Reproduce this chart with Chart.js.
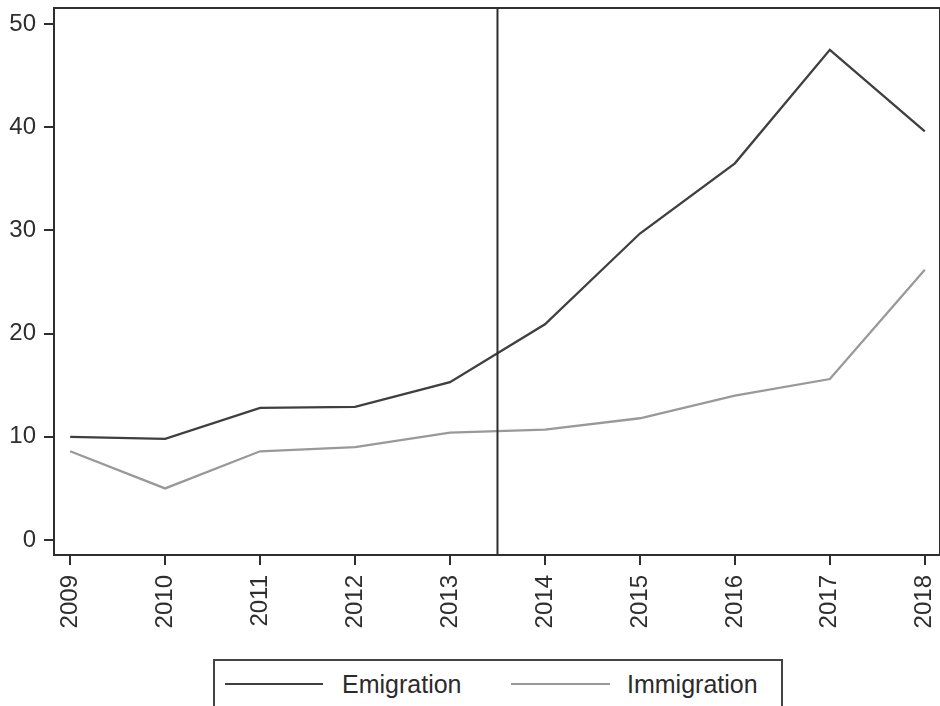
<!DOCTYPE html>
<html>
<head>
<meta charset="utf-8">
<script src="https://cdn.jsdelivr.net/npm/chart.js@4.4.1/dist/chart.umd.min.js"></script>
<style>
  body { margin: 0; background: #fff; }
  #wrap { position: relative; width: 940px; height: 706px; overflow: hidden; }
  #legend {
    position: absolute; left: 213px; top: 659px; width: 566px; height: 70px;
    border: 2px solid #444; background: #fff;
    font-family: "Liberation Sans", Arial, Helvetica, sans-serif; font-size: 25px; color: #2b2b2b;
  }
  #legend .sw { position: absolute; top: 22px; height: 2px; }
  #legend .lb { position: absolute; top: 8px; line-height: 30px; }
</style>
</head>
<body>
<div id="wrap">
  <canvas id="grafica" width="940" height="706"></canvas>
  <div id="legend">
    <span class="sw" style="left:10px;width:98px;background:#3f3f3f"></span>
    <span class="lb" style="left:127px">Emigration</span>
    <span class="sw" style="left:296px;width:99px;background:#999"></span>
    <span class="lb" style="left:412px">Immigration</span>
  </div>
</div>
<script>
// años y valores de las dos series
const anios = [2009, 2010, 2011, 2012, 2013, 2014, 2015, 2016, 2017, 2018];
const emigracion = [10.0, 9.8, 12.8, 12.9, 15.3, 20.9, 29.7, 36.5, 47.5, 39.6];
const inmigracion = [8.6, 5.0, 8.6, 9.0, 10.4, 10.7, 11.8, 14.0, 15.6, 26.2];
const ticksY = [0, 10, 20, 30, 40, 50];
const corte = 2013.5; // línea vertical entre 2013 y 2014

const fuente = { family: '"Liberation Sans", Arial, Helvetica, sans-serif', size: 24 };
const gris = '#2e2e2e';

// sin márgenes extra por las etiquetas de los extremos
function sinMargen(s) {
  s.paddingTop = 0; s.paddingBottom = 0; s.paddingLeft = 0; s.paddingRight = 0;
}

// marco completo del área de trazado + línea vertical
const marco = {
  id: 'marco',
  afterDatasetsDraw(chart) {
    const { ctx, chartArea: a, scales } = chart;
    ctx.save();
    ctx.strokeStyle = gris;
    ctx.lineWidth = 2;
    ctx.strokeRect(a.left, a.top, a.right - a.left, a.bottom - a.top);
    const x = scales.x.getPixelForValue(corte);
    ctx.beginPath();
    ctx.moveTo(x, a.top);
    ctx.lineTo(x, a.bottom);
    ctx.stroke();
    ctx.restore();
  }
};

new Chart(document.getElementById('grafica'), {
  type: 'line',
  data: {
    datasets: [
      {
        label: 'Emigration',
        data: anios.map((a, i) => ({ x: a, y: emigracion[i] })),
        borderColor: '#3f3f3f',
        borderWidth: 2.3,
        pointRadius: 0,
        tension: 0
      },
      {
        label: 'Immigration',
        data: anios.map((a, i) => ({ x: a, y: inmigracion[i] })),
        borderColor: '#999',
        borderWidth: 2.3,
        pointRadius: 0,
        tension: 0
      }
    ]
  },
  options: {
    responsive: false,
    animation: false,
    layout: { padding: { top: 8, right: 0, left: 0, bottom: 0 } },
    plugins: { legend: { display: false }, tooltip: { enabled: false } },
    scales: {
      x: {
        type: 'linear',
        min: 2008.83,
        max: 2018.16,
        afterBuildTicks: s => { s.ticks = anios.map(v => ({ value: v })); },
        afterFit: s => { s.height = 151; sinMargen(s); },
        ticks: {
          autoSkip: false, minRotation: 90, maxRotation: 90, padding: 10,
          color: gris, font: fuente,
          callback: v => String(v)
        },
        grid: { drawOnChartArea: false, drawTicks: true, tickLength: 10, color: gris, lineWidth: 2 },
        border: { display: true, color: gris, width: 2 }
      },
      y: {
        min: -1.45,
        max: 51.55,
        afterBuildTicks: s => { s.ticks = ticksY.map(v => ({ value: v })); },
        afterFit: s => { s.width = 54; sinMargen(s); },
        ticks: { padding: 8, color: gris, font: fuente },
        grid: { drawOnChartArea: false, drawTicks: true, tickLength: 10, color: gris, lineWidth: 2 },
        border: { display: true, color: gris, width: 2 }
      }
    }
  },
  plugins: [marco]
});
</script>
</body>
</html>
